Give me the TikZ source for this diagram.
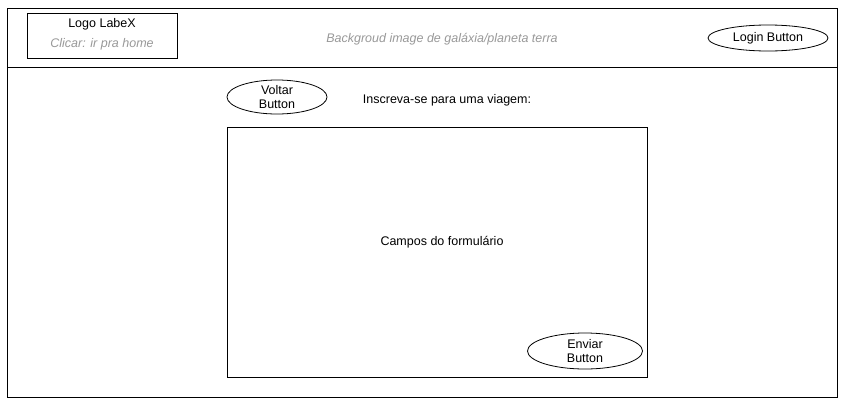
\documentclass[tikz,border=0pt]{standalone}
\usepackage{fontspec}
\setmainfont{Liberation Sans}
\usetikzlibrary{shapes.geometric}
\definecolor{hint}{HTML}{999999}
\begin{document}
\begin{tikzpicture}[x=1pt,y=-1pt,
  every node/.style={font=\fontsize{12.5}{14}\selectfont, inner sep=0pt},
  frame/.style={draw=black, line width=1pt},
  btn/.style={draw=black, line width=0.8pt, ellipse, align=center},
  hinttext/.style={text=hint, font=\fontsize{12.5}{14}\selectfont\itshape}]
\useasboundingbox[fill=white] (0,0) rectangle (850,405);
\draw[frame] (7,8) rectangle (837,397);
\draw[frame] (7,67) -- (837,67);
% logo box
\draw[frame] (27,13) rectangle (177,58);
\node (logo) at (102,24) {Logo LabeX};
\node[hinttext] (logohint) at (102,44) {Clicar: ir pra home};
\node[hinttext] (bg) at (442,39) {Backgroud image de galáxia/planeta terra};
\node[btn, minimum width=120, minimum height=26] (login) at (768,38) {Login Button};
\node[btn, minimum width=100, minimum height=34] (voltar) at (277,97) {Voltar\\Button};
\node (insc) at (447,100) {Inscreva-se para uma viagem:};
\draw[frame] (227,127) rectangle (647,377);
\node (campos) at (442,242) {Campos do formulário};
\node[btn, minimum width=115, minimum height=36] (enviar) at (585,351) {Enviar\\Button};
\end{tikzpicture}
\end{document}
